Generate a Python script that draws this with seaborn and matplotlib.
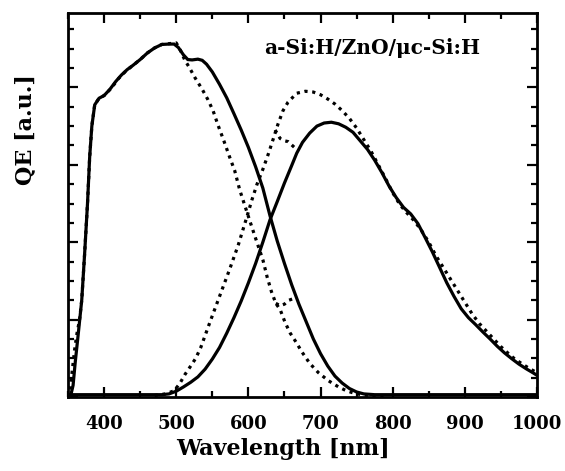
import matplotlib
matplotlib.use("Agg")
import matplotlib.pyplot as plt
import seaborn as sns
import pandas as pd
from matplotlib.ticker import MultipleLocator

# ---- top cell (a-Si:H), solid ----
top_solid_wl = [350, 354, 357, 360, 364, 369, 373, 377, 380, 383, 387, 393, 400, 408, 416, 424,
                432, 440, 450, 460, 470, 480, 490, 497, 503, 510, 516, 522, 530, 536, 542, 550,
                560, 570, 580, 590, 600, 610, 620, 630, 640, 650, 660, 670, 680, 690, 700, 710,
                720, 730, 740, 750, 760, 775, 790, 1000]
top_solid_qe = [0.006, 0.006, 0.03, 0.09, 0.16, 0.25, 0.37, 0.50, 0.62, 0.70, 0.755, 0.772, 0.779,
                0.795, 0.815, 0.832, 0.846, 0.857, 0.872, 0.889, 0.902, 0.911, 0.912, 0.912, 0.903,
                0.884, 0.872, 0.871, 0.873, 0.870, 0.860, 0.840, 0.808, 0.773, 0.732, 0.690, 0.645,
                0.595, 0.540, 0.468, 0.403, 0.345, 0.290, 0.240, 0.195, 0.150, 0.112, 0.080, 0.054,
                0.036, 0.022, 0.013, 0.008, 0.006, 0.006, 0.006]

# ---- top cell (a-Si:H), dotted ----
top_dot_wl = [350, 353, 356, 359, 362, 366, 369, 373, 377, 380, 383, 387, 393, 400, 410, 420, 430,
              440, 450, 460, 470, 480, 490, 500, 506, 512, 518, 526, 536, 544, 551, 558, 566, 574,
              581, 588, 595, 602, 610, 620, 626, 632, 638, 644, 651, 658, 666, 674, 685, 697, 711,
              725, 736, 748, 760, 775, 790]
top_dot_qe = [0.0, 0.02, 0.07, 0.12, 0.16, 0.20, 0.25, 0.37, 0.50, 0.62, 0.70, 0.755, 0.772,
              0.779, 0.798, 0.823, 0.842, 0.857, 0.872, 0.889, 0.902, 0.911, 0.913, 0.915, 0.895,
              0.870, 0.852, 0.825, 0.795, 0.768, 0.740, 0.702, 0.662, 0.620, 0.585, 0.535, 0.495,
              0.455, 0.410, 0.355, 0.310, 0.272, 0.242, 0.226, 0.192, 0.165, 0.142, 0.117, 0.087,
              0.063, 0.042, 0.026, 0.016, 0.009, 0.005, 0.003, 0.003]
top_glitch_wl = [638, 644, 650, 656, 662, 667]
top_glitch_qe = [0.242, 0.236, 0.240, 0.250, 0.254, 0.258]

# ---- bottom cell (uc-Si:H), solid ----
bot_solid_wl = [350, 400, 450, 480, 490, 500, 510, 520, 530, 540, 550, 560, 570, 580, 590, 600,
                610, 620, 630, 640, 650, 660, 667, 675, 685, 695, 705, 715, 725, 735, 745, 755,
                765, 775, 785, 795, 805, 815, 825, 835, 845, 855, 865, 875, 885, 895, 905, 915,
                925, 935, 945, 955, 965, 975, 985, 995, 1000]
bot_solid_qe = [0.006, 0.006, 0.006, 0.006, 0.008, 0.015, 0.026, 0.038, 0.052, 0.072, 0.098,
                0.128, 0.165, 0.205, 0.248, 0.295, 0.345, 0.400, 0.458, 0.505, 0.553, 0.598,
                0.630, 0.658, 0.682, 0.700, 0.708, 0.710, 0.706, 0.697, 0.684, 0.662, 0.640,
                0.612, 0.580, 0.545, 0.515, 0.490, 0.473, 0.448, 0.412, 0.375, 0.335, 0.295,
                0.260, 0.228, 0.205, 0.187, 0.168, 0.150, 0.131, 0.114, 0.099, 0.085, 0.073,
                0.062, 0.056]

# ---- bottom cell (uc-Si:H), dotted ----
bot_dot_wl = [470, 485, 497, 505, 512, 520, 527, 534, 547, 560, 574, 586, 597, 605, 612, 620,
              628, 635, 641, 648, 655, 667, 679, 690, 700, 710, 720, 730, 740, 750, 760, 770,
              780, 790, 800, 810, 820, 830, 840, 850, 860, 870, 880, 890, 900, 910, 920, 930,
              940, 950, 960, 970, 980, 990, 1000]
bot_dot_qe = [0.004, 0.008, 0.016, 0.035, 0.058, 0.080, 0.100, 0.128, 0.195, 0.260, 0.330,
              0.393, 0.460, 0.510, 0.550, 0.588, 0.630, 0.670, 0.705, 0.740, 0.762, 0.785,
              0.790, 0.788, 0.781, 0.770, 0.757, 0.740, 0.720, 0.695, 0.665, 0.635, 0.600,
              0.565, 0.528, 0.497, 0.475, 0.455, 0.430, 0.400, 0.365, 0.335, 0.305, 0.275,
              0.245, 0.215, 0.190, 0.170, 0.150, 0.130, 0.113, 0.097, 0.085, 0.073, 0.063]
bot_glitch_wl = [637, 644, 650, 655, 662, 669]
bot_glitch_qe = [0.690, 0.668, 0.662, 0.660, 0.648, 0.636]

x_ticks = [400, 500, 600, 700, 800, 900, 1000]
x_ticklabels = ["400", "500", "600", "700", "800", "900", "1000"]
x_label = "Wavelength [nm]"
y_label = "QE [a.u.]"
annotation = "a-Si:H/ZnO/\u03bcc-Si:H"

sns.set_theme(style="ticks")
plt.rcParams['font.family'] = ['DejaVu Serif']
plt.rcParams['font.weight'] = 'bold'

fig = plt.figure(figsize=(5.65, 4.71), dpi=100)
ax = fig.add_axes([0.1204, 0.1571, 0.8300, 0.8159])

dotted = (0, (1.0, 1.45))
lw = 2.3

def draw(wl, qe, style):
    df = pd.DataFrame({"wl": wl, "qe": qe})
    sns.lineplot(data=df, x="wl", y="qe", ax=ax, color="black", linewidth=lw,
                 estimator=None, sort=False, legend=False)
    line = ax.lines[-1]
    if style != "solid":
        line.set_linestyle(dotted)
        line.set_dash_capstyle("butt")
    else:
        line.set_solid_joinstyle("miter")

draw(top_dot_wl, top_dot_qe, "dot")
draw(top_glitch_wl, top_glitch_qe, "dot")
draw(bot_dot_wl, bot_dot_qe, "dot")
draw(bot_glitch_wl, bot_glitch_qe, "dot")
draw(top_solid_wl, top_solid_qe, "solid")
draw(bot_solid_wl, bot_solid_qe, "solid")

ax.set_xlim(350, 1000)
ax.set_ylim(0, 0.993)
ax.set_xticks(x_ticks)
ax.set_xticklabels(x_ticklabels)
ax.xaxis.set_minor_locator(MultipleLocator(50))
ax.yaxis.set_major_locator(MultipleLocator(0.2))
ax.yaxis.set_minor_locator(MultipleLocator(0.05))
ax.tick_params(which='both', direction='in', top=True, right=True, left=True, bottom=True,
               labelleft=False, color='black', width=1.6)
ax.tick_params(which='major', length=7.5, pad=13, labelsize=13, labelcolor='black')
ax.tick_params(which='minor', length=4.5)
for t in ax.get_xticklabels():
    t.set_fontweight('bold')

for s in ax.spines.values():
    s.set_linewidth(2.0)
    s.set_color('black')

ax.set_xlabel(x_label, fontsize=16, fontweight='bold', color='black')
ax.xaxis.set_label_coords(0.458, -0.135)
ax.xaxis.label.set_va('center')
ax.set_ylabel(y_label, fontsize=16, fontweight='bold', color='black')
ax.yaxis.set_label_coords(-0.0906, 0.697)
ax.yaxis.label.set_va('center')

ax.text(0.6475, 0.909, annotation, transform=ax.transAxes, ha='center', va='center',
        fontsize=14.5, fontweight='bold', color='black')

fig.savefig("out.png", dpi=100)
